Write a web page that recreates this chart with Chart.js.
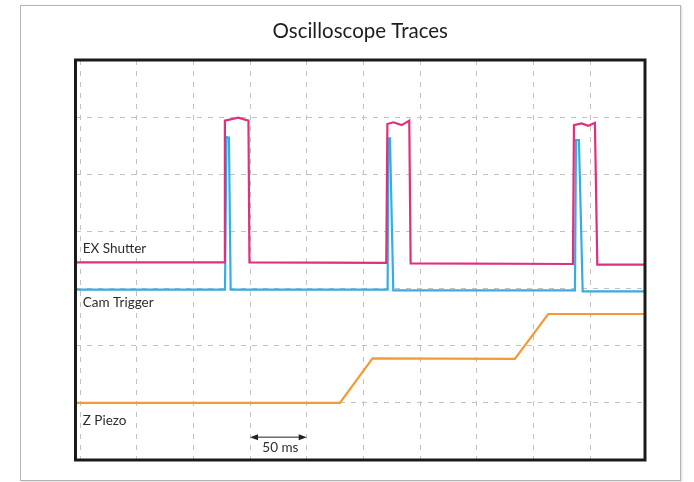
<!DOCTYPE html>
<html>
<head>
<meta charset="utf-8">
<script src="https://cdn.jsdelivr.net/npm/chart.js@4"></script>
<style>
  html, body { margin: 0; padding: 0; background: #fff; }
  #frame {
    position: absolute; left: 20px; top: 5px; width: 659px; height: 474px;
    border: 1.5px solid #b4b4b4; box-shadow: 1px 1px 2px rgba(0,0,0,0.15);
  }
  #wrap { position: absolute; left: 0; top: 0; width: 694px; height: 482px; }
</style>
</head>
<body>
<div id="frame"></div>
<div id="wrap"><canvas id="scope" width="694" height="482"></canvas></div>
<script>
// time axis in ms (one division = 50 ms), vertical axis in divisions
const xTicks = [0, 50, 100, 150, 200, 250, 300, 350, 400, 450];
const yTicks = [0, 1, 2, 3, 4, 5, 6, 7];

const traceNames = ["EX Shutter", "Cam Trigger", "Z Piezo"];

const shutterX = [-4, 127.1, 127.8, 139.6, 148.6, 149.5, 270.2, 271.2, 276.4, 283.8, 290.5, 291.7, 434.9, 435.8, 442.6, 448.4, 454.3, 456.4, 498.5];
const shutterY = [3.46, 3.46, 5.94, 5.99, 5.94, 3.46, 3.45, 5.88, 5.91, 5.86, 5.94, 3.44, 3.43, 5.86, 5.89, 5.85, 5.90, 3.42, 3.42];

const triggerX = [-4, 127.9, 129.2, 131.4, 132.9, 271.4, 272.0, 273.5, 276.4, 436.7, 437.6, 440.2, 443.5, 498.5];
const triggerY = [2.98, 2.98, 5.65, 5.64, 2.98, 2.98, 5.63, 5.63, 2.97, 2.97, 5.60, 5.60, 2.95, 2.95];

const piezoX = [-4, 229.3, 258.1, 383.7, 413.1, 498.5];
const piezoY = [1.0, 1.0, 1.78, 1.77, 2.555, 2.555];

const scaleBarMs = [150, 200];
const scaleBarLabel = "50 ms";

function pts(xs, ys) {
    return xs.map((x, i) => ({ x: x, y: ys[i] }));
}

/* trace names, the 50 ms bar and the heavy plot border */
const scopeDecor = {
    id: "scopeDecor",
    afterDatasetsDraw(chart) {
        const ctx = chart.ctx;
        const a = chart.chartArea;
        const xs = chart.scales.x, ys = chart.scales.y;

        ctx.save();
        ctx.fillStyle = "#2e2e2e";
        ctx.font = "13.5px Lato";
        ctx.textBaseline = "middle";
        ctx.textAlign = "left";
        const labelY = [3.70, 2.76, 0.69];
        traceNames.forEach((t, i) => {
            ctx.fillText(t, xs.getPixelForValue(2.4), ys.getPixelForValue(labelY[i]));
        });

        // scale bar
        const x0 = xs.getPixelForValue(scaleBarMs[0]);
        const x1 = xs.getPixelForValue(scaleBarMs[1]);
        const by = ys.getPixelForValue(0.40);
        ctx.strokeStyle = "#222";
        ctx.fillStyle = "#222";
        ctx.lineWidth = 1;
        ctx.beginPath();
        ctx.moveTo(x0 + 4, by);
        ctx.lineTo(x1 - 4, by);
        ctx.stroke();
        ctx.beginPath();
        ctx.moveTo(x0, by); ctx.lineTo(x0 + 8, by - 3); ctx.lineTo(x0 + 8, by + 3); ctx.closePath();
        ctx.moveTo(x1, by); ctx.lineTo(x1 - 8, by - 3); ctx.lineTo(x1 - 8, by + 3); ctx.closePath();
        ctx.fill();
        ctx.fillStyle = "#2e2e2e";
        ctx.font = "13.5px Lato";
        ctx.textAlign = "center";
        ctx.fillText(scaleBarLabel, (x0 + x1) / 2 + 2, ys.getPixelForValue(0.21));

        ctx.strokeStyle = "#1a1a1a";
        ctx.lineWidth = 3;
        ctx.strokeRect(a.left, a.top, a.right - a.left, a.bottom - a.top);
        ctx.restore();
    }
};

const lineStyle = { borderWidth: 2.2, pointRadius: 0, tension: 0, fill: false };

new Chart(document.getElementById("scope"), {
    type: "line",
    data: {
        datasets: [
            Object.assign({ label: traceNames[0], data: pts(shutterX, shutterY), borderColor: "#df307c" }, lineStyle),
            Object.assign({ label: traceNames[1], data: pts(triggerX, triggerY), borderColor: "#38ace0" }, lineStyle),
            Object.assign({ label: traceNames[2], data: pts(piezoX, piezoY), borderColor: "#f29a36" }, lineStyle)
        ]
    },
    options: {
        responsive: false,
        animation: false,
        layout: { padding: { left: 75.5, right: 49, top: 0, bottom: 22 } },
        plugins: {
            legend: { display: false },
            tooltip: { enabled: false },
            title: {
                display: true,
                text: "Oscilloscope Traces",
                color: "#1e1e1e",
                font: { family: "Lato", size: 20.5, weight: "normal" },
                padding: { top: 19, bottom: 16.4 }
            }
        },
        scales: {
            x: {
                type: "linear",
                min: -4,
                max: 498.5,
                afterBuildTicks: s => { s.ticks = xTicks.map(v => ({ value: v })); },
                ticks: { display: false },
                grid: { color: "#c2c2c2", lineWidth: 1, drawTicks: false },
                border: { display: false, dash: [5, 6] }
            },
            y: {
                type: "linear",
                min: 0,
                max: 7,
                afterBuildTicks: s => { s.ticks = yTicks.map(v => ({ value: v })); },
                ticks: { display: false },
                grid: { color: "#c2c2c2", lineWidth: 1, drawTicks: false },
                border: { display: false, dash: [5, 6] }
            }
        }
    },
    plugins: [scopeDecor]
});
</script>
</body>
</html>
